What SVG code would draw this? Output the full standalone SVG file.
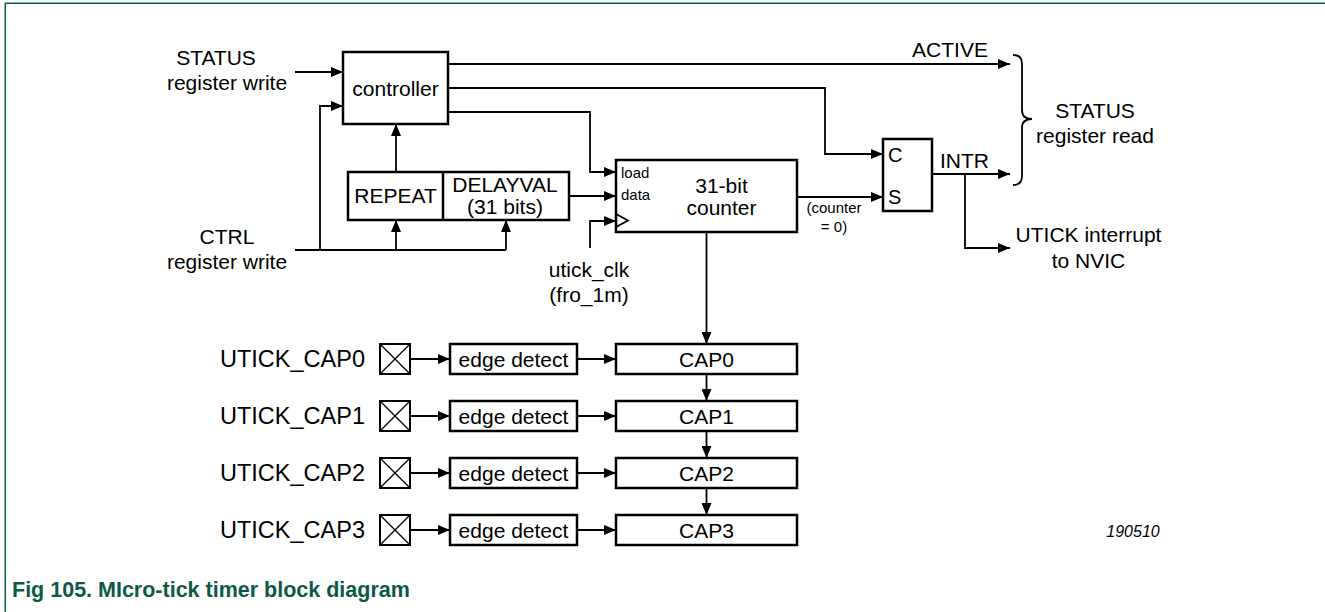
<svg xmlns="http://www.w3.org/2000/svg" width="1325" height="612" viewBox="0 0 1325 612">
<style>
text{font-family:"Liberation Sans",Arial,sans-serif;fill:#000}
.t{font-size:21px}
.s{font-size:15px}
.u{font-size:23.5px}
.m{text-anchor:middle}
.box{fill:#fff;stroke:#000;stroke-width:2.5}
.ln{fill:none;stroke:#000;stroke-width:1.8}
.x{fill:none;stroke:#000;stroke-width:1.3}
.a{marker-end:url(#ah)}
.frame{fill:none;stroke:#0b5a46;stroke-width:1.5}
</style>
<defs>
<marker id="ah" markerUnits="userSpaceOnUse" markerWidth="12" markerHeight="10" refX="12" refY="5" orient="auto">
<path d="M0,0 L12,5 L0,10 z" fill="#000"/>
</marker>
</defs>
<rect width="1325" height="612" fill="#fff"/>
<path class="frame" d="M5.3,612 V3.3 H1325"/>

<g id="connectors">
<path class="ln a" d="M295,72 H343"/>
<path class="ln" d="M295,250 H506"/>
<path class="ln a" d="M320,250 V106 H343"/>
<path class="ln a" d="M396,250 V220"/>
<path class="ln a" d="M506,250 V220"/>
<path class="ln a" d="M396,172 V124"/>
<path class="ln a" d="M448,64 H1010"/>
<path class="ln a" d="M448,88 H825 V154 H883"/>
<path class="ln a" d="M448,112 H590 V172 H616"/>
<path class="ln a" d="M569,196 H616"/>
<path class="ln a" d="M590,248 V221 H616"/>
<path class="ln a" d="M797,197 H883"/>
<path class="ln a" d="M932,174 H1010"/>
<path class="ln a" d="M965,174 V248 H1010"/>
<path class="ln a" d="M706.5,232 V344"/>
<path class="ln a" d="M706.5,374 V401"/>
<path class="ln a" d="M706.5,431 V458"/>
<path class="ln a" d="M706.5,488 V515"/>
<path class="ln a" d="M411,359 H450"/>
<path class="ln a" d="M577,359 H616"/>
<path class="ln a" d="M411,416 H450"/>
<path class="ln a" d="M577,416 H616"/>
<path class="ln a" d="M411,473 H450"/>
<path class="ln a" d="M577,473 H616"/>
<path class="ln a" d="M411,530 H450"/>
<path class="ln a" d="M577,530 H616"/>
<path class="ln" d="M1013,55 Q1022,55 1022,64 V110 Q1022,119 1032,119 Q1022,119 1022,128 V176 Q1022,185 1013,185"/>
</g>

<g id="labels">
<text class="t m" x="216" y="65">STATUS</text>
<text class="t m" x="227" y="90">register write</text>
<text class="t m" x="227" y="244">CTRL</text>
<text class="t m" x="227" y="269">register write</text>
<text class="t m" x="950" y="57">ACTIVE</text>
<text class="t m" x="964.5" y="168">INTR</text>
<text class="t m" x="1095" y="118">STATUS</text>
<text class="t m" x="1095" y="143">register read</text>
<text class="t m" x="1088.5" y="242">UTICK interrupt</text>
<text class="t m" x="1088.5" y="268">to NVIC</text>
<text class="t m" x="589" y="277">utick_clk</text>
<text class="t m" x="589" y="302">(fro_1m)</text>
<text class="s m" x="834" y="213">(counter</text>
<text class="s m" x="834" y="232">= 0)</text>
<text x="1133" y="537" style="font-size:16px;font-style:italic" text-anchor="middle">190510</text>
<text x="12" y="597" style="font-size:21.5px;font-weight:bold;fill:#0b5a46">Fig 105. MIcro-tick timer block diagram</text>
</g>

<g id="controller">
<rect class="box" x="343" y="52" width="105" height="72"/>
<text class="t m" x="395.5" y="96">controller</text>
</g>

<g id="registers">
<rect class="box" x="348" y="172" width="221" height="48"/>
<line x1="443" y1="172" x2="443" y2="220" stroke="#000" stroke-width="2.5"/>
<text class="t m" x="395.5" y="203">REPEAT</text>
<text class="t m" x="505" y="192">DELAYVAL</text>
<text class="t m" x="505" y="214">(31 bits)</text>
</g>

<g id="counter">
<rect class="box" x="616" y="160" width="181" height="72"/>
<path class="ln" d="M616,214 L628,220.5 L616,227"/>
<text class="s" x="621" y="178">load</text>
<text class="s" x="621" y="200">data</text>
<text class="t m" x="721.5" y="193">31-bit</text>
<text class="t m" x="721.5" y="215">counter</text>
</g>

<g id="flipflop">
<rect class="box" x="883" y="139" width="49" height="72"/>
<text x="888" y="162" style="font-size:20px">C</text>
<text x="888" y="204" style="font-size:20px">S</text>
</g>

<g id="cap0">
<text class="u" x="220" y="367">UTICK_CAP0</text>
<rect class="box" x="380" y="344" width="30" height="30" style="stroke-width:2"/>
<path class="x" d="M380,344 L410,374 M410,344 L380,374"/>
<rect class="box" x="450" y="344" width="127" height="30"/>
<text class="t m" x="513.5" y="367">edge detect</text>
<rect class="box" x="616" y="344" width="181" height="30"/>
<text class="t m" x="706.5" y="367">CAP0</text>
</g>
<g id="cap1">
<text class="u" x="220" y="424">UTICK_CAP1</text>
<rect class="box" x="380" y="401" width="30" height="30" style="stroke-width:2"/>
<path class="x" d="M380,401 L410,431 M410,401 L380,431"/>
<rect class="box" x="450" y="401" width="127" height="30"/>
<text class="t m" x="513.5" y="424">edge detect</text>
<rect class="box" x="616" y="401" width="181" height="30"/>
<text class="t m" x="706.5" y="424">CAP1</text>
</g>
<g id="cap2">
<text class="u" x="220" y="481">UTICK_CAP2</text>
<rect class="box" x="380" y="458" width="30" height="30" style="stroke-width:2"/>
<path class="x" d="M380,458 L410,488 M410,458 L380,488"/>
<rect class="box" x="450" y="458" width="127" height="30"/>
<text class="t m" x="513.5" y="481">edge detect</text>
<rect class="box" x="616" y="458" width="181" height="30"/>
<text class="t m" x="706.5" y="481">CAP2</text>
</g>
<g id="cap3">
<text class="u" x="220" y="538">UTICK_CAP3</text>
<rect class="box" x="380" y="515" width="30" height="30" style="stroke-width:2"/>
<path class="x" d="M380,515 L410,545 M410,515 L380,545"/>
<rect class="box" x="450" y="515" width="127" height="30"/>
<text class="t m" x="513.5" y="538">edge detect</text>
<rect class="box" x="616" y="515" width="181" height="30"/>
<text class="t m" x="706.5" y="538">CAP3</text>
</g>
</svg>
